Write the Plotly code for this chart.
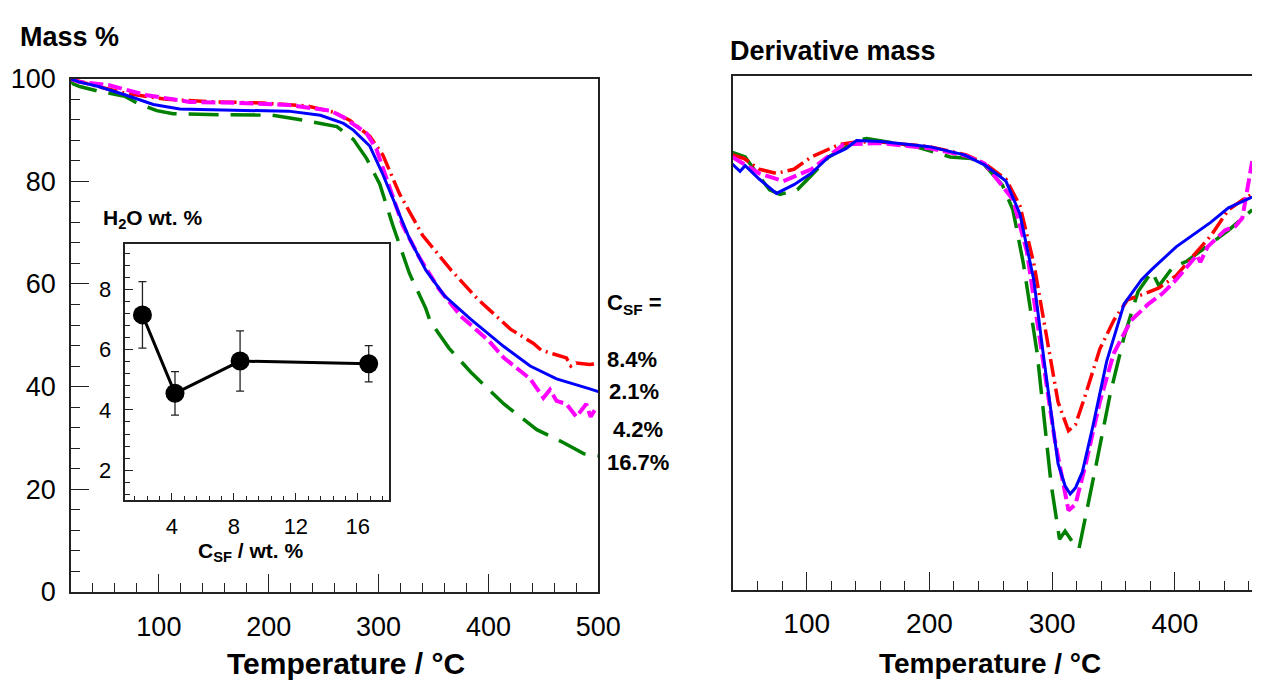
import plotly.graph_objects as go

W, H = 1275, 696
FONT = "Liberation Sans, Arial, sans-serif"

# ---------------- TG (Mass %) curves ----------------
tg_T_84 = [20, 39, 69, 107, 152, 194, 235, 259, 274, 292, 304, 319, 340, 366, 390, 420, 441, 448, 460, 471, 475, 480, 492, 500]
tg_M_84 = [100, 98.8, 97.2, 96.0, 95.5, 95.3, 94.7, 93.5, 91.9, 88.8, 85.1, 77.6, 69.5, 62.7, 57.1, 51.2, 48.4, 47.1, 46.3, 45.6, 44.0, 44.6, 44.3, 44.5]

tg_T_21 = [20, 27, 45, 69, 95, 119, 158, 218, 247, 268, 277, 292, 304, 316, 328, 343, 360, 384, 414, 438, 462, 493, 500]
tg_M_21 = [100, 99.4, 98.5, 96.9, 95.0, 94.1, 93.9, 93.7, 92.9, 91.3, 90.0, 86.9, 81.3, 75.1, 68.9, 62.7, 57.7, 53.1, 47.8, 44.0, 41.5, 39.5, 39.0]

tg_T_42 = [20, 27, 54, 72, 89, 128, 173, 218, 256, 268, 289, 298, 310, 322, 337, 355, 375, 400, 414, 438, 450, 456, 462, 471, 480, 489, 493, 497]
tg_M_42 = [100, 99.4, 98.8, 97.8, 96.8, 95.5, 95.3, 94.9, 93.8, 92.5, 89.4, 86.3, 78.9, 71.4, 65.2, 59.0, 53.7, 49.0, 45.6, 41.5, 37.8, 39.4, 37.2, 36.6, 34.1, 36.6, 34.1, 35.5]

tg_T_167 = [20, 22, 28, 45, 69, 80, 98, 113, 158, 203, 232, 262, 277, 289, 301, 313, 328, 343, 347, 364, 384, 414, 444, 468, 487, 500]
tg_M_167 = [100, 99.0, 98.5, 97.6, 96.6, 95.3, 93.8, 93.2, 93.0, 92.9, 91.9, 90.7, 88.2, 84.5, 79.5, 71.4, 62.1, 55.2, 52.7, 47.5, 42.8, 36.6, 31.6, 29.1, 26.9, 26.5]

# ---------------- DTG (derivative mass, arbitrary units) ----------------
dtg_T_21 = [39.4, 45.7, 49.9, 61.3, 75.4, 89.6, 103.8, 117.9, 132, 140.6, 160.4, 200, 228.4, 245.2, 262.3, 273.7, 285, 293.5, 304.8, 310.5, 314.7, 319, 324.6, 333.1, 344.4, 358.6, 372.8, 381.2, 401, 415.3, 429.4, 443.6, 457.8, 463]
dtg_V_21 = [82.9, 81.5, 82.6, 80.0, 77.2, 78.9, 81.1, 84.3, 85.9, 87.5, 87.3, 86.3, 84.7, 82.7, 79.6, 73.2, 60.4, 44.5, 24.6, 20.3, 18.7, 19.9, 23.0, 31.8, 44.5, 55.7, 60.4, 62.4, 66.8, 69.2, 71.6, 74.4, 76.0, 76.5]

dtg_T_84 = [39.4, 49, 61.3, 75.4, 89.6, 103.8, 126.4, 140, 160, 200, 230, 245, 262.3, 273.7, 285, 296.3, 304.8, 313.3, 319, 327.4, 338.8, 350.2, 361.4, 375.6, 387, 401, 415.3, 429.4, 443.6, 457.8, 463]
dtg_V_84 = [84.7, 84.0, 81.9, 81.1, 81.9, 84.3, 86.7, 87.2, 87.2, 86.3, 84.7, 83.0, 80.0, 74.8, 63.6, 47.7, 36.6, 31.0, 32.2, 38.2, 46.9, 52.5, 56.5, 57.7, 58.8, 61.2, 65.0, 69.0, 74.0, 76.4, 77.0]

dtg_T_42 = [39.4, 61.3, 81, 103.8, 130, 160, 200, 230, 245, 268, 279.3, 290.6, 302, 313.3, 319, 327.4, 338.8, 350.2, 364.3, 378.5, 389.8, 401, 409.6, 418, 420.7, 426.6, 440.7, 449.2, 454.9, 460.6, 463]
dtg_V_42 = [84.3, 81.1, 79.6, 81.9, 86.7, 87.0, 86.0, 84.5, 83.0, 76.0, 66.0, 47.7, 29.4, 15.5, 16.7, 24.6, 36.6, 46.1, 52.5, 55.7, 57.7, 60.4, 62.8, 65.2, 63.8, 66.8, 70.0, 70.8, 72.4, 79.6, 83.5]

dtg_T_167 = [39.4, 49.9, 61.3, 69.8, 78.2, 92.4, 103.8, 118, 140.6, 149, 188.6, 217, 234, 245, 259.5, 268, 276.5, 287.8, 299.1, 306, 310.5, 316.2, 321.8, 327.4, 336, 347.3, 358.6, 370, 381.2, 387, 398.2, 409.6, 421, 443.6, 463]
dtg_V_167 = [85.2, 84.3, 80.5, 77.9, 77.0, 77.9, 80.7, 84.3, 87.5, 87.9, 86.3, 84.3, 84.0, 82.7, 78.8, 74.0, 63.6, 46.1, 20.7, 9.9, 11.5, 9.5, 8.0, 14.3, 24.6, 38.2, 49.3, 58.1, 62.0, 59.2, 62.8, 64.0, 66.0, 70.0, 74.0]

# ---------------- Inset: water content ----------------
csf = [2.1, 4.2, 8.4, 16.7]
h2o = [7.15, 4.55, 5.62, 5.53]
h2o_err = [1.1, 0.72, 1.0, 0.6]

series_labels = ["8.4%", "2.1%", "4.2%", "16.7%"]

RED, BLUE, MAG, GRN = "#ff0000", "#0000ff", "#ff00ff", "#008000"
red_dash = "18px,5px,2px,5px"
mag_dash = "14px,5px"
grn_dash = "30px,12px"

fig = go.Figure()

def add(x, y, color, dash, xa, ya, name, width=3):
    fig.add_trace(go.Scatter(x=x, y=y, mode="lines", name=name,
                             line=dict(color=color, width=width, dash=dash),
                             xaxis=xa, yaxis=ya, showlegend=False))

# left panel
add(tg_T_167, tg_M_167, GRN, grn_dash, "x", "y", "16.7%", 3.5)
add(tg_T_84, tg_M_84, RED, red_dash, "x", "y", "8.4%", 3.5)
add(tg_T_42, tg_M_42, MAG, mag_dash, "x", "y", "4.2%", 4)
add(tg_T_21, tg_M_21, BLUE, "solid", "x", "y", "2.1%", 3)
# right panel
add(dtg_T_167, dtg_V_167, GRN, grn_dash, "x2", "y2", "16.7%", 3.5)
add(dtg_T_84, dtg_V_84, RED, red_dash, "x2", "y2", "8.4%", 3.5)
add(dtg_T_42, dtg_V_42, MAG, mag_dash, "x2", "y2", "4.2%", 4)
add(dtg_T_21, dtg_V_21, BLUE, "solid", "x2", "y2", "2.1%", 3)
# inset
fig.add_trace(go.Scatter(x=csf, y=h2o, mode="lines+markers", xaxis="x3", yaxis="y3",
                         line=dict(color="black", width=3),
                         marker=dict(color="black", size=19),
                         error_y=dict(type="data", array=h2o_err, visible=True,
                                      color="#222", thickness=1.3, width=4),
                         showlegend=False))

def px_x(p):
    return p / W

def px_y(p):
    return 1 - p / H

axc = "#222222"
common = dict(showline=True, linecolor=axc, linewidth=1.6, ticks="inside",
              tickcolor=axc, tickwidth=1.4, showgrid=False, zeroline=False)

def tf(size):
    return dict(family=FONT, size=size, color="black")

fig.update_layout(
    width=W, height=H, margin=dict(l=0, r=0, t=0, b=0),
    paper_bgcolor="white", plot_bgcolor="white",
    font=dict(family=FONT, color="black"),
    xaxis=dict(domain=[px_x(72.3), px_x(609.3)], range=[20, 500], anchor="y",
               tickvals=[100, 200, 300, 400, 500], ticklen=18, mirror=True,
               minor=dict(dtick=20, tick0=0, ticklen=9, ticks="inside", tickcolor=axc),
               tickfont=tf(27), ticklabelstandoff=10, **common),
    yaxis=dict(domain=[px_y(602.7), px_y(66.7)], range=[0, 100], anchor="x",
               tickvals=[0, 20, 40, 60, 80, 100], ticklen=18, mirror=True,
               minor=dict(dtick=4, tick0=0, ticklen=9, ticks="inside", tickcolor=axc),
               tickfont=tf(27), ticklabelstandoff=8, **common),
    xaxis2=dict(domain=[px_x(746.5), 1.0], range=[40, 462.8], anchor="y2",
                tickvals=[100, 200, 300, 400], ticklen=18, mirror=True,
                minor=dict(dtick=20, tick0=0, ticklen=9, ticks="inside", tickcolor=axc),
                tickfont=tf(28), ticklabelstandoff=8, **common),
    yaxis2=dict(domain=[px_y(601), px_y(64)], range=[0, 100], anchor="x2",
                showline=True, linecolor=axc, linewidth=1.6, ticks="",
                showticklabels=False, showgrid=False, zeroline=False),
    xaxis3=dict(domain=[px_x(127.7), px_x(396)], range=[1, 18], anchor="y3",
                tickvals=[4, 8, 12, 16], ticklen=8, mirror=True,
                minor=dict(dtick=0.8, tick0=0, ticklen=5, ticks="inside", tickcolor=axc),
                tickfont=tf(22), ticklabelstandoff=5, **common),
    yaxis3=dict(domain=[px_y(507.3), px_y(239.3)], range=[1, 9.5], anchor="x3",
                tickvals=[2, 4, 6, 8], ticklen=8, mirror=True,
                minor=dict(dtick=0.4, tick0=0, ticklen=5, ticks="inside", tickcolor=axc),
                tickfont=tf(22), ticklabelstandoff=8, **common),
)

def ann(text, x, y, size, xanchor="center"):
    fig.add_annotation(text=text, x=px_x(x), y=px_y(y), xref="paper", yref="paper",
                       xanchor=xanchor, yanchor="middle", showarrow=False,
                       font=dict(family=FONT, size=size, color="black", weight="bold"))

ann("Mass %", 18, 23, 27, "left")
ann("Derivative mass", 741, 38, 27, "left")
ann("Temperature / °C", 352, 678, 30)
ann("Temperature / °C", 1008, 678, 28)
ann("H<sub>2</sub>O wt. %", 103, 213, 21, "left")
ann("C<sub>SF</sub> / wt. %", 255, 561, 21)
ann("C<sub>SF</sub> =", 616, 302, 22, "left")
lab_y = [360, 393, 433, 468]
lab_x = [616, 618, 622, 616]
for t, xx, yy in zip(series_labels, lab_x, lab_y):
    ann(t, xx, yy, 22, "left")

fig.write_html("out.html", config={"displayModeBar": False},
               post_script="document.body.style.margin='0';document.body.style.overflow='hidden';")
